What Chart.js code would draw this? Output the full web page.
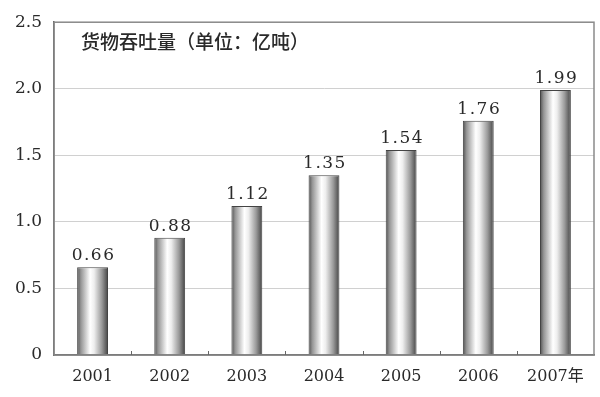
<!DOCTYPE html>
<html>
<head>
<meta charset="utf-8">
<script src="https://cdn.jsdelivr.net/npm/chart.js@4/dist/chart.umd.min.js"></script>
<style>
  html, body { margin: 0; padding: 0; background: #fff; }
  #wrap { width: 600px; height: 397px; }
</style>
</head>
<body>
<div id="wrap"><canvas id="chart" width="600" height="397"></canvas></div>
<script>
// data
const years = ["2001", "2002", "2003", "2004", "2005", "2006", "2007年"];
const throughput = [0.66, 0.88, 1.12, 1.35, 1.54, 1.76, 1.99];
const yTicks = [0, 0.5, 1.0, 1.5, 2.0, 2.5];
const chartTitle = "货物吞吐量（单位：亿吨）";

const serif = "'DejaVu Serif', 'Liberation Serif', 'Noto Sans CJK SC', serif";

// cylinder look: gradient across each bar, built from the x scale
function barFill(ctx) {
  const chart = ctx.chart;
  const xs = chart.scales.x;
  if (!xs || ctx.dataIndex === undefined) return "#aaa";
  const c = xs.getPixelForValue(ctx.dataIndex);
  const w = xs.width / years.length * 0.4;
  if (!isFinite(c) || !isFinite(w) || w <= 0) return "#aaa";
  const g = chart.ctx.createLinearGradient(c - w / 2, 0, c + w / 2, 0);
  g.addColorStop(0, "#505050");
  g.addColorStop(0.12, "#959595");
  g.addColorStop(0.42, "#ffffff");
  g.addColorStop(0.55, "#eeeeee");
  g.addColorStop(0.8, "#9a9a9a");
  g.addColorStop(1, "#444444");
  return g;
}

const decorations = {
  id: "decorations",
  afterDraw(chart) {
    const { ctx, chartArea: a } = chart;
    ctx.save();
    // plot frame
    ctx.strokeStyle = "#8a8a8a";
    ctx.lineWidth = 1.5;
    ctx.strokeRect(a.left, a.top, a.right - a.left, a.bottom - a.top);
    // small ticks between categories
    const xs = chart.scales.x;
    ctx.strokeStyle = "#666";
    ctx.lineWidth = 1;
    for (let i = 0; i < years.length - 1; i++) {
      const x = (xs.getPixelForValue(i) + xs.getPixelForValue(i + 1)) / 2;
      ctx.beginPath();
      ctx.moveTo(Math.round(x) + 0.5, a.bottom);
      ctx.lineTo(Math.round(x) + 0.5, a.bottom - 4);
      ctx.stroke();
    }
    // title inside the plot
    ctx.fillStyle = "#2a2a2a";
    ctx.font = "500 19px 'Noto Sans CJK SC', sans-serif";
    ctx.textBaseline = "middle";
    ctx.textAlign = "left";
    ctx.fillText(chartTitle, 81, 42);
    // value labels above bars
    ctx.font = "17px " + serif;
    ctx.letterSpacing = "1.5px";
    ctx.textAlign = "center";
    ctx.textBaseline = "alphabetic";
    chart.getDatasetMeta(0).data.forEach((bar, i) => {
      ctx.fillText(throughput[i].toFixed(2), bar.x + 1, bar.y - 7);
    });
    ctx.restore();
  }
};

new Chart(document.getElementById("chart"), {
  type: "bar",
  data: {
    labels: years,
    datasets: [{
      data: throughput,
      backgroundColor: barFill,
      borderColor: "#444",
      borderWidth: 1,
      categoryPercentage: 0.4,
      barPercentage: 1.0
    }]
  },
  options: {
    responsive: false,
    animation: false,
    layout: { padding: { top: 18, right: 6, left: 0, bottom: 0 } },
    plugins: { legend: { display: false }, tooltip: { enabled: false } },
    scales: {
      x: {
        grid: { display: false },
        border: { color: "#555", width: 1.5 },
        ticks: { color: "#2a2a2a", font: { family: serif, size: 16 }, padding: 4 },
        afterFit(scale) { scale.height = 42; }
      },
      y: {
        min: 0,
        max: 2.5,
        afterBuildTicks(scale) { scale.ticks = yTicks.map(v => ({ value: v })); },
        grid: { color: "#d0d0d0", drawTicks: false },
        border: { color: "#555", width: 1.5 },
        ticks: {
          color: "#2a2a2a",
          font: { family: serif, size: 17 },
          padding: 12,
          callback: v => (v === 0 ? "0" : v.toFixed(1))
        },
        afterFit(scale) { scale.width = 54; }
      }
    }
  },
  plugins: [decorations]
});
</script>
</body>
</html>
